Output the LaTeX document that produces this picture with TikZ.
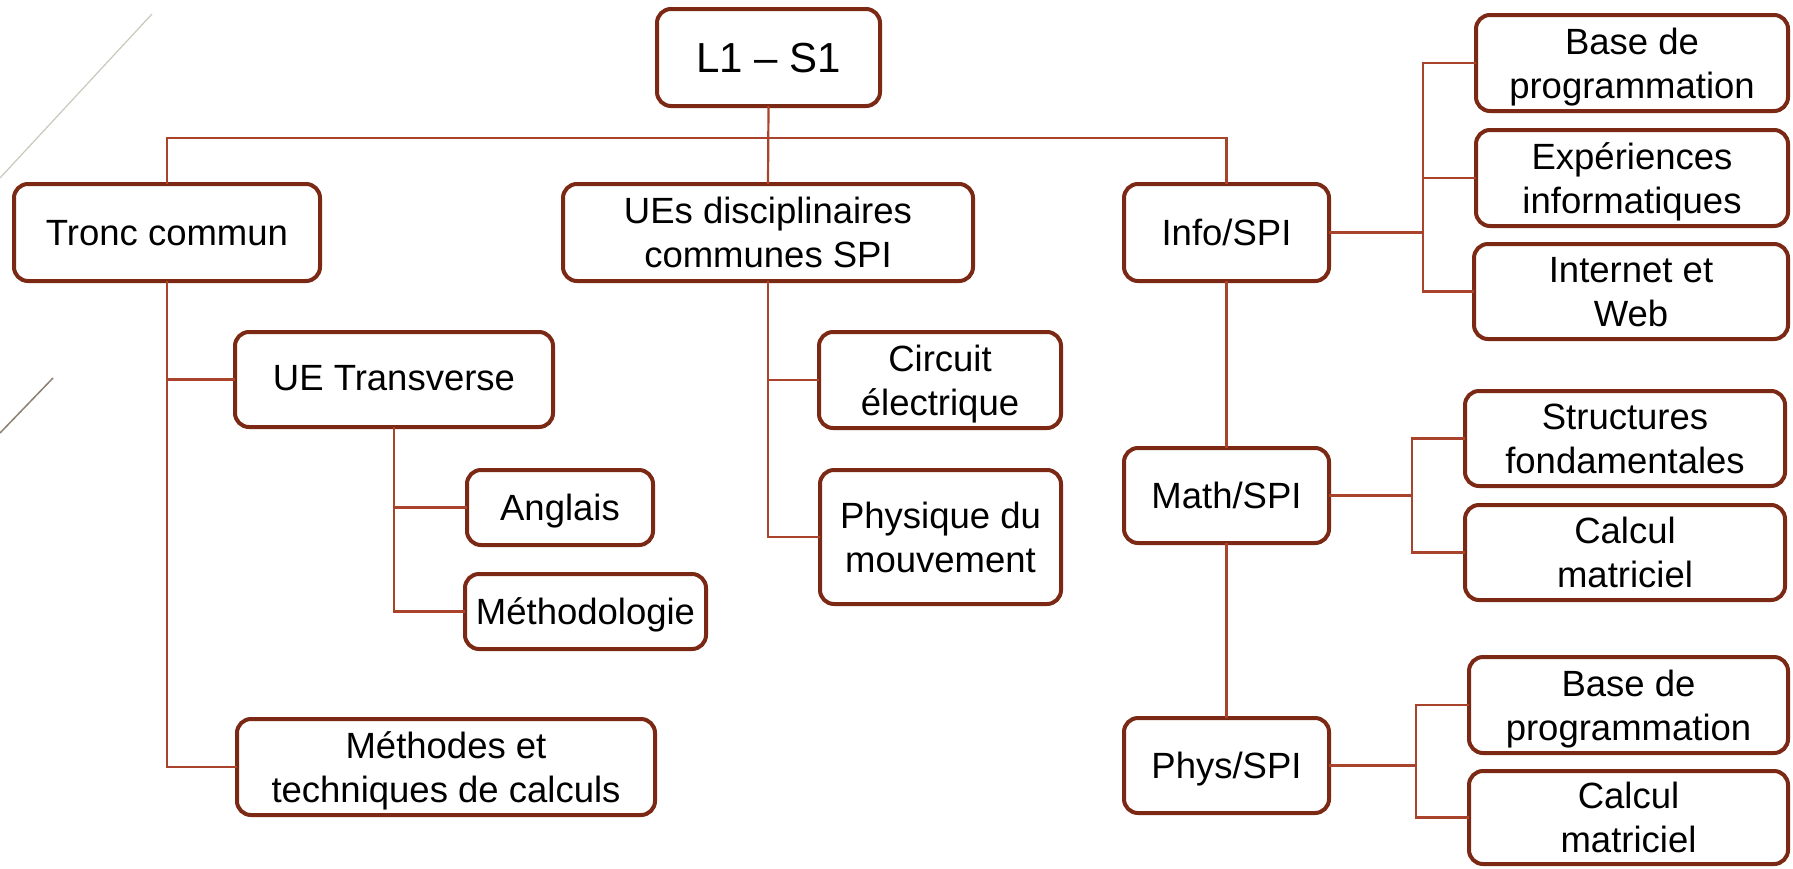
\documentclass[tikz,border=0pt]{standalone}
\usepackage{fontspec}
\setmainfont{Liberation Sans}
\begin{document}
\definecolor{boxc}{HTML}{7B2914}
\definecolor{wirec}{HTML}{A9432B}
\definecolor{decoa}{HTML}{CBC7BC}
\definecolor{decob}{HTML}{8C8170}
\begin{tikzpicture}[x=1pt,y=-1pt,
  unit/.style={draw=boxc, line width=4pt, rounded corners=14pt, fill=white,
               inner sep=0pt, outer sep=0pt},
  lbl/.style={font=\fontsize{36.5}{44}\selectfont, align=center, anchor=base,
              inner sep=0pt, text=black},
  toplbl/.style={lbl, font=\fontsize{42}{50}\selectfont},
  wire/.style={draw=wirec, line width=2.2pt},
  deco/.style={line width=1.2pt}]
\useasboundingbox[fill=white] (0,0) rectangle (1793,868);

% slide ornaments on the left edge
\draw[deco, draw=decoa] (152,14) -- (0,178);
\draw[deco, draw=decob, line width=1.5pt] (53,378) -- (0,433);

% bus levels
\coordinate (bus) at (0,138);
\coordinate (ib) at (1423,0);
\coordinate (mb) at (1412,0);
\coordinate (pb) at (1416,0);

% boxes
\node[unit, minimum width=223pt, minimum height=97pt] (l1) at (768.5,57.5) {};
\node[unit, minimum width=306pt, minimum height=97pt] (tronc) at (167,232.5) {};
\node[unit, minimum width=410pt, minimum height=97pt] (ues) at (768,232.5) {};
\node[unit, minimum width=205pt, minimum height=97pt] (info) at (1226.5,232.5) {};

\node[unit, minimum width=318pt, minimum height=95pt] (uet) at (394,379.5) {};
\node[unit, minimum width=186pt, minimum height=75pt] (anglais) at (560,507.5) {};
\node[unit, minimum width=241pt, minimum height=75pt] (metho) at (585.5,611.5) {};
\node[unit, minimum width=418pt, minimum height=96pt] (methodes) at (446,767) {};

\node[unit, minimum width=242pt, minimum height=96pt] (circuit) at (940,380) {};
\node[unit, minimum width=241pt, minimum height=134pt] (physique) at (940.5,537) {};

\node[unit, minimum width=312pt, minimum height=96pt] (bpa) at (1632,63) {};
\node[unit, minimum width=312pt, minimum height=96pt] (exp) at (1632,178) {};
\node[unit, minimum width=314pt, minimum height=95pt] (web) at (1631,291.5) {};

\node[unit, minimum width=205pt, minimum height=95pt] (math) at (1226.5,495.5) {};
\node[unit, minimum width=320pt, minimum height=95pt] (struct) at (1625,438.5) {};
\node[unit, minimum width=320pt, minimum height=95pt] (calca) at (1625,552.5) {};

\node[unit, minimum width=205pt, minimum height=95pt] (phys) at (1226.5,765.5) {};
\node[unit, minimum width=319pt, minimum height=96pt] (bpb) at (1628.5,705) {};
\node[unit, minimum width=319pt, minimum height=93pt] (calcb) at (1628.5,817.5) {};

% connectors
\draw[wire] (l1.south) -- (ues.north);
\draw[wire] (tronc.north) -- (tronc.north |- bus) -- (info.north |- bus) -- (info.north);

\draw[wire] (tronc.south) |- (methodes.west);
\draw[wire] (tronc.south |- uet.west) -- (uet.west);
\draw[wire] (uet.south) |- (metho.west);
\draw[wire] (uet.south |- anglais.west) -- (anglais.west);

\draw[wire] (ues.south) |- (physique.west);
\draw[wire] (ues.south |- circuit.west) -- (circuit.west);

\draw[wire] (info.east) -- (info.east -| ib);
\draw[wire] (bpa.west) -- (bpa.west -| ib) -- (web.west -| ib) -- (web.west);
\draw[wire] (exp.west) -- (exp.west -| ib);

\draw[wire] (info.south) -- (math.north);
\draw[wire] (math.south) -- (phys.north);

\draw[wire] (math.east) -- (math.east -| mb);
\draw[wire] (struct.west) -- (struct.west -| mb) -- (calca.west -| mb) -- (calca.west);

\draw[wire] (phys.east) -- (phys.east -| pb);
\draw[wire] (bpb.west) -- (bpb.west -| pb) -- (calcb.west -| pb) -- (calcb.west);

% labels, anchored on the baseline of their last line
\node[toplbl] (l1-t) at (768.5,72.5) {L1 – S1};
\node[lbl] (tronc-t) at (167,245.5) {Tronc commun};
\node[lbl] (ues-t) at (768,267.5) {UEs disciplinaires\\communes SPI};
\node[lbl] (info-t) at (1226.5,245.5) {Info/SPI};

\node[lbl] (uet-t) at (394,390) {UE Transverse};
\node[lbl] (anglais-t) at (560,520.5) {Anglais};
\node[lbl] (metho-t) at (585.5,624.5) {Méthodologie};
\node[lbl] (methodes-t) at (446,802) {Méthodes et\\techniques de calculs};

\node[lbl] (circuit-t) at (940,415) {Circuit\\électrique};
\node[lbl] (physique-t) at (940.5,572) {Physique du\\mouvement};

\node[lbl] (bpa-t) at (1632,98) {Base de\\programmation};
\node[lbl] (exp-t) at (1632,213) {Expériences\\informatiques};
\node[lbl] (web-t) at (1631,326.5) {Internet et\\Web};

\node[lbl] (math-t) at (1226.5,508.5) {Math/SPI};
\node[lbl] (struct-t) at (1625,473.5) {Structures\\fondamentales};
\node[lbl] (calca-t) at (1625,587.5) {Calcul\\matriciel};

\node[lbl] (phys-t) at (1226.5,778.5) {Phys/SPI};
\node[lbl] (bpb-t) at (1628.5,740) {Base de\\programmation};
\node[lbl] (calcb-t) at (1628.5,852.5) {Calcul\\matriciel};
\end{tikzpicture}
\end{document}
